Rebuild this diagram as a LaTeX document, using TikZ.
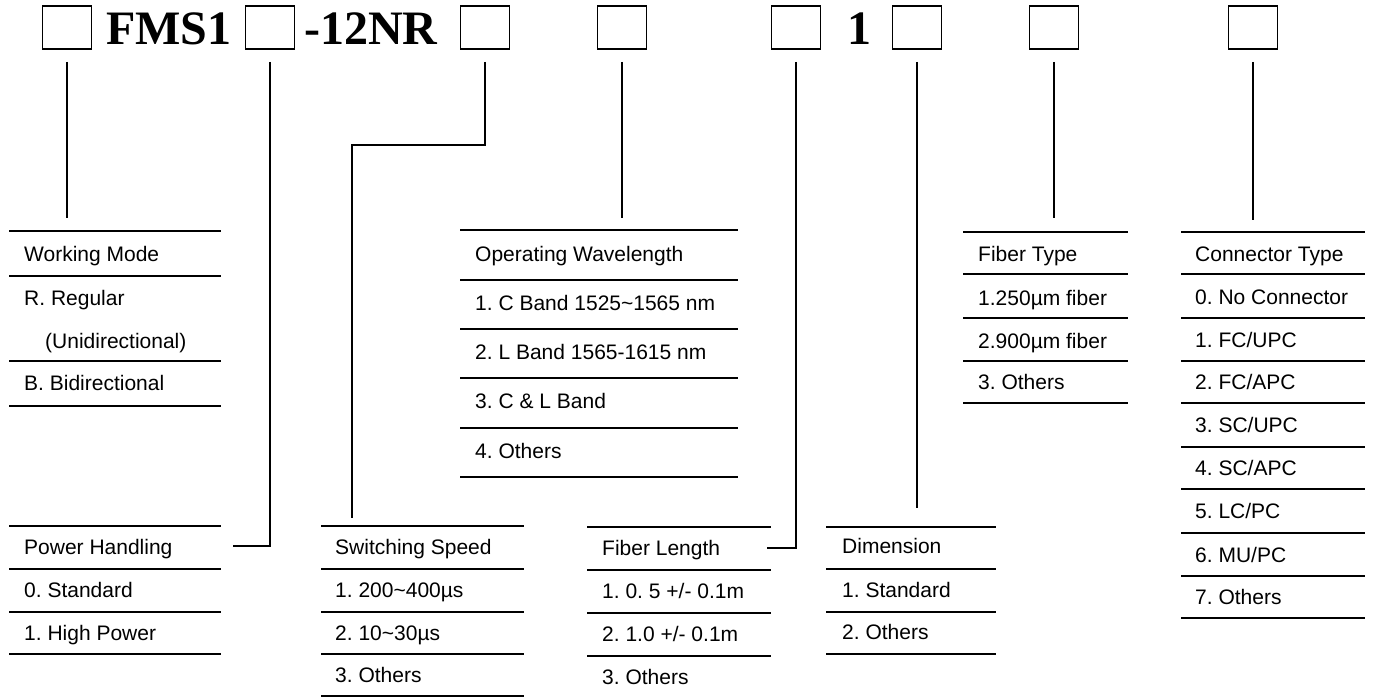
\documentclass[tikz,border=0pt]{standalone}
\usepackage{fontspec}
\setmainfont{Liberation Sans}
\newfontfamily\codefont{Liberation Serif}
\frenchspacing

\tikzset{
  slot/.style={draw, line width=1.8pt, minimum width=49pt, minimum height=43pt, inner sep=0pt},
  code/.style={anchor=base west, inner sep=0pt, font=\codefont\bfseries\fontsize{48}{50}\selectfont},
  item/.style={anchor=base west, inner sep=0pt, font=\fontsize{21}{25}\selectfont},
  rule/.style={line width=1.8pt},
  conn/.style={line width=1.3pt, shorten <=12pt},
}

\begin{document}
\begin{tikzpicture}[x=1pt,y=-1pt]
  \useasboundingbox (0,0) rectangle (1373,698);

  % okienka kodu
  \foreach \n/\x in {1/67, 2/270, 3/485, 4/622, 5/796, 6/917, 7/1054, 8/1253}
    \node[slot] (b\n) at (\x,27.5) {};

  % pevne casti kodu
  \node[code] (fms) at (106,45) {FMS1};
  \node[code] (nr) at (304,45) {-12NR};
  \node[code] (one) at (847,45) {1};

  % working mode
  \foreach \y in {231,276,361,406}
    \draw[rule] (9,\y) -- (221,\y);
  \node[item] (mode) at (24,261) {Working Mode};
  \foreach \t/\x/\y [count=\i] in {R. Regular/24/305, (Unidirectional)/45/348, B. Bidirectional/24/390}
    \node[item] (mode\i) at (\x,\y) {\t};

  % operating wavelength
  \foreach \y in {230,280,329,378,428,477}
    \draw[rule] (460,\y) -- (738,\y);
  \node[item] (wave) at (475,261) {Operating Wavelength};
  \foreach \t/\y [count=\i] in {1. C Band 1525\textasciitilde1565 nm/310, 2. L Band 1565-1615 nm/359,
      3. C \& L Band/408, 4. Others/458}
    \node[item] (wave\i) at (475,\y) {\t};

  % fiber type
  \foreach \y in {232,274,318,361,403}
    \draw[rule] (963,\y) -- (1128,\y);
  \node[item] (fiber) at (978,261) {Fiber Type};
  \foreach \t/\y [count=\i] in {1.250µm fiber/305, 2.900µm fiber/348, 3. Others/389}
    \node[item] (fiber\i) at (978,\y) {\t};

  % connector type
  \foreach \y in {232,274,318,361,403,447,489,533,576,618}
    \draw[rule] (1181,\y) -- (1365,\y);
  \node[item] (plug) at (1195,261) {Connector Type};
  \foreach \t/\y [count=\i] in {0. No Connector/304, {1. FC/UPC}/347, {2. FC/APC}/389, {3. SC/UPC}/432,
      {4. SC/APC}/475, {5. LC/PC}/518, {6. MU/PC}/562, 7. Others/604}
    \node[item] (plug\i) at (1195,\y) {\t};

  % power handling
  \foreach \y in {526,569,612,654}
    \draw[rule] (9,\y) -- (221,\y);
  \node[item] (power) at (24,554) {Power Handling};
  \foreach \t/\y [count=\i] in {0. Standard/597, 1. High Power/640}
    \node[item] (power\i) at (24,\y) {\t};

  % switching speed
  \foreach \y in {526,569,612,654,696}
    \draw[rule] (321,\y) -- (524,\y);
  \node[item] (speed) at (335,554) {Switching Speed};
  \foreach \t/\y [count=\i] in {1. 200\textasciitilde400µs/597, 2. 10\textasciitilde30µs/640, 3. Others/682}
    \node[item] (speed\i) at (335,\y) {\t};

  % fiber length
  \foreach \y in {527,570,613,656}
    \draw[rule] (587,\y) -- (771,\y);
  \node[item] (length) at (602,555) {Fiber Length};
  \foreach \t/\y [count=\i] in {{1. 0. 5 +/- 0.1m}/598, {2. 1.0 +/- 0.1m}/641, 3. Others/684}
    \node[item] (length\i) at (602,\y) {\t};

  % dimension
  \foreach \y in {527,569,612,654}
    \draw[rule] (826,\y) -- (996,\y);
  \node[item] (dim) at (842,553) {Dimension};
  \foreach \t/\y [count=\i] in {1. Standard/597, 2. Others/639}
    \node[item] (dim\i) at (842,\y) {\t};

  % konce spojnic
  \coordinate (e1) at (67,218);
  \coordinate (e2) at (233,546);
  \coordinate (k3) at (352,145);
  \coordinate (e3) at (352,518);
  \coordinate (e4) at (622,218);
  \coordinate (e5) at (767,548);
  \coordinate (e6) at (917,508);
  \coordinate (e7) at (1054,218);
  \coordinate (e8) at (1253,220);

  % spojnice
  \draw[conn] (b1.south) -- (e1);
  \draw[conn] (b2.south) |- (e2);
  \draw[conn] (b3.south) |- (k3) -- (e3);
  \draw[conn] (b4.south) -- (e4);
  \draw[conn] (b5.south) |- (e5);
  \draw[conn] (b6.south) -- (e6);
  \draw[conn] (b7.south) -- (e7);
  \draw[conn] (b8.south) -- (e8);

\end{tikzpicture}
\end{document}
